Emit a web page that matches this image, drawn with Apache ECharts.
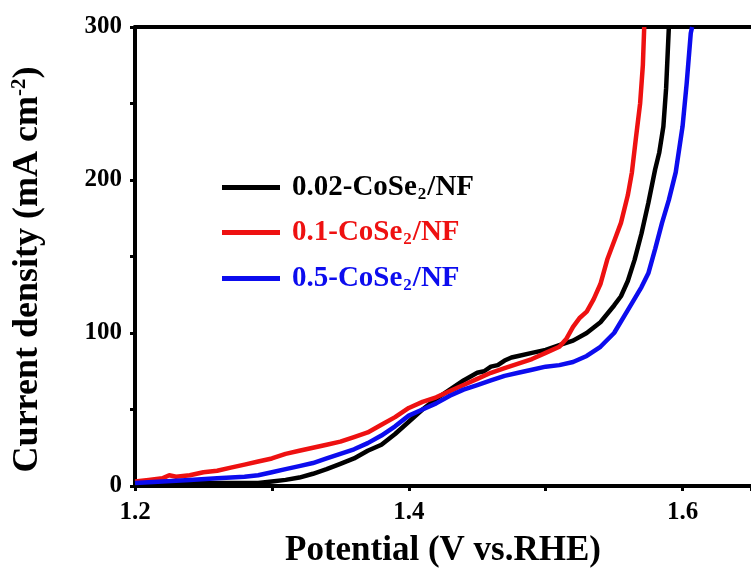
<!DOCTYPE html>
<html>
<head>
<meta charset="utf-8">
<script src="https://cdn.jsdelivr.net/npm/echarts@6/dist/echarts.min.js"></script>
<style>html,body{margin:0;padding:0;background:#fff}#c{width:751px;height:579px}</style>
</head>
<body>
<div id="c"></div>
<script>
// ---- data ----
const seriesNames = ['0.02-CoSe2/NF', '0.1-CoSe2/NF', '0.5-CoSe2/NF'];
const xTicks = [1.2, 1.4, 1.6];
const yTicks = [0, 100, 200, 300];

const potential002 = [1.200,1.220,1.240,1.260,1.280,1.290,1.300,1.310,1.320,1.330,1.340,1.350,1.360,1.370,1.380,1.390,1.400,1.410,1.420,1.430,1.440,1.450,1.455,1.460,1.465,1.470,1.475,1.480,1.490,1.500,1.510,1.520,1.530,1.540,1.550,1.555,1.560,1.565,1.570,1.575,1.580,1.583,1.586,1.588,1.590];
const current002   = [2,2,2,2,2,2,3,4,5.5,8,11,14.5,18,23,27,34,42,50,57,63,69,74,75,78,79,82,84,85,87,89,92,95,100,107,118,124,134,148,165,185,207,218,235,260,300];

const potential01 = [1.200,1.210,1.220,1.225,1.230,1.240,1.250,1.260,1.270,1.280,1.290,1.300,1.310,1.320,1.330,1.340,1.350,1.360,1.370,1.380,1.390,1.400,1.410,1.420,1.430,1.440,1.450,1.460,1.470,1.480,1.490,1.500,1.510,1.515,1.520,1.525,1.530,1.535,1.540,1.545,1.550,1.555,1.560,1.563,1.566,1.569,1.571,1.572];
const current01   = [3,4,5,7,6,7,9,10,12,14,16,18,21,23,25,27,29,32,35,40,45,51,55,58,62,66,70,74,77,80,83,87,91,96,104,110,114,122,132,148,160,172,190,205,228,250,275,300];

const potential05 = [1.200,1.220,1.240,1.260,1.280,1.290,1.300,1.310,1.320,1.330,1.340,1.350,1.360,1.370,1.380,1.390,1.400,1.410,1.420,1.430,1.440,1.450,1.460,1.470,1.480,1.490,1.500,1.510,1.520,1.530,1.540,1.550,1.560,1.570,1.575,1.580,1.585,1.590,1.595,1.600,1.603,1.606,1.607];
const current05   = [2,3,4,5,6,7,9,11,13,15,18,21,24,28,33,39,46,50,54,59,63,66,69,72,74,76,78,79,81,85,91,100,115,130,139,155,172,187,205,235,263,296,300];

const colors = ['#000000', '#ee1111', '#0c0cee'];

function pairs(xs, ys) { return xs.map((x, i) => [x, ys[i]]); }
const seriesData = [pairs(potential002, current002), pairs(potential01, current01), pairs(potential05, current05)];

const FONT = '"Liberation Serif", "Times New Roman", serif';

function legendFor(i, top) {
  const parts = seriesNames[i].split('2/');
  return {
    show: true,
    left: 222,
    top: top,
    padding: 0,
    itemWidth: 58,
    itemHeight: 5,
    icon: 'rect',
    selectedMode: false,
    data: [seriesNames[i]],
    formatter: function () { return '{b|' + parts[0] + '}{s|2}{b|/' + parts[1] + '}'; },
    textStyle: {
      padding: [0, 0, 0, 7],
      rich: {
        b: { fontFamily: FONT, fontWeight: 'bold', fontSize: 29, color: colors[i], lineHeight: 32 },
        s: { fontFamily: FONT, fontWeight: 'bold', fontSize: 17, color: colors[i], lineHeight: 32, verticalAlign: 'bottom', padding: [0, 1, 0, 1] }
      }
    }
  };
}

const chart = echarts.init(document.getElementById('c'), null, { renderer: 'canvas' });
chart.setOption({
  animation: false,
  backgroundColor: '#ffffff',
  grid: { left: 135, top: 27, bottom: 93, width: 619, containLabel: false },
  legend: [legendFor(0, 173), legendFor(1, 218), legendFor(2, 264)],
  xAxis: [{
    type: 'value',
    min: 1.2, max: 1.65, interval: 0.2,
    name: 'Potential (V vs.RHE)',
    nameLocation: 'middle',
    nameGap: 47,
    nameTextStyle: { fontFamily: FONT, fontWeight: 'bold', fontSize: 35, color: '#000' },
    axisLine: { show: true, onZero: false, lineStyle: { color: '#000', width: 4 } },
    axisTick: { show: true, inside: false, length: 5, lineStyle: { color: '#000', width: 3 } },
    minorTick: { show: true, splitNumber: 2, length: 5, lineStyle: { color: '#000', width: 3 } },
    splitLine: { show: false },
    axisLabel: {
      margin: 14, fontFamily: FONT, fontWeight: 'bold', fontSize: 25, color: '#000',
      showMaxLabel: false,
      formatter: function (v) { return xTicks.some(t => Math.abs(t - v) < 1e-6) ? v.toFixed(1) : ''; }
    }
  }, {
    type: 'value', position: 'top', min: 1.2, max: 1.65,
    axisLine: { show: true, onZero: false, lineStyle: { color: '#000', width: 4 } },
    axisTick: { show: false }, axisLabel: { show: false }, splitLine: { show: false }
  }],
  yAxis: {
    type: 'value',
    min: 0, max: 300, interval: 100,
    name: '{t|Current density (mA cm}{p|-2}{t|)}',
    nameLocation: 'middle',
    nameGap: 88,
    nameTextStyle: {
      padding: [0, 26, 0, 0],
      rich: {
        t: { fontFamily: FONT, fontWeight: 'bold', fontSize: 36, color: '#000', lineHeight: 38 },
        p: { fontFamily: FONT, fontWeight: 'bold', fontSize: 21, color: '#000', lineHeight: 38, verticalAlign: 'top' }
      }
    },
    axisLine: { show: true, onZero: false, lineStyle: { color: '#000', width: 4 } },
    axisTick: { show: true, inside: false, length: 5, lineStyle: { color: '#000', width: 3 } },
    minorTick: { show: true, splitNumber: 2, length: 5, lineStyle: { color: '#000', width: 3 } },
    splitLine: { show: false },
    axisLabel: {
      margin: 13, fontFamily: FONT, fontWeight: 'bold', fontSize: 25, color: '#000',
      formatter: function (v) { return yTicks.indexOf(v) >= 0 ? String(v) : ''; }
    }
  },
  series: seriesNames.map((n, i) => ({
    name: n,
    type: 'line',
    data: seriesData[i],
    showSymbol: false,
    symbol: 'none',
    smooth: false,
    color: colors[i],
    lineStyle: { color: colors[i], width: 4.5 },
    itemStyle: { color: colors[i] },
    z: 2 + i
  }))
});
</script>
</body>
</html>
